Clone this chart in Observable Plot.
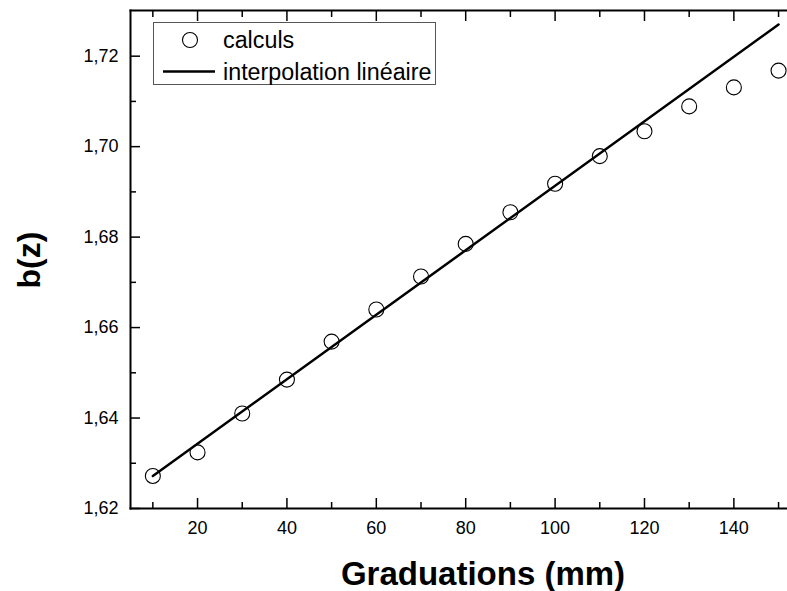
<!DOCTYPE html>
<html>
<head>
<meta charset="utf-8">
<script src="https://cdn.jsdelivr.net/npm/d3@7"></script>
<script src="https://cdn.jsdelivr.net/npm/@observablehq/plot@0.6"></script>
<style>
  html, body { margin: 0; padding: 0; background: #fff; }
  #chart { position: relative; width: 787px; height: 591px; }
</style>
</head>
<body>
<div id="chart"></div>
<script>
// Data
const graduations = [10, 20, 30, 40, 50, 60, 70, 80, 90, 100, 110, 120, 130, 140, 150];
const bValues = [1.6272, 1.6324, 1.6410, 1.6485, 1.6569, 1.6640, 1.6713, 1.6785, 1.6855, 1.6918, 1.6979, 1.7034, 1.7089, 1.7131, 1.7168];
const fitX = [10, 150];
const fitY = [1.6272, 1.7270];
const xMajorTicks = [20, 40, 60, 80, 100, 120, 140];
const xMinorTicks = [10, 30, 50, 70, 90, 110, 130, 150];
const yMajorTicks = [1.62, 1.64, 1.66, 1.68, 1.70, 1.72];
const yMinorTicks = [1.63, 1.65, 1.67, 1.69, 1.71];
const xTitle = "Graduations (mm)";
const yTitle = "b(z)";
const legendLabels = ["calculs", "interpolation linéaire"];

const points = graduations.map((g, i) => ({x: g, y: bValues[i]}));
const fit = fitX.map((g, i) => ({x: g, y: fitY[i]}));
const fmt = d => d.toFixed(2).replace(".", ",");
const FONT = "Liberation Sans, Arial, sans-serif";

const chart = Plot.plot({
  width: 787,
  height: 591,
  marginLeft: 130,
  marginRight: 0,
  marginTop: 10,
  marginBottom: 83,
  style: {fontFamily: FONT, color: "black", background: "white"},
  x: {domain: [5, 152]},
  y: {domain: [1.62, 1.7301]},
  marks: [
    // inward ticks (bottom / top / left)
    Plot.axisX(xMajorTicks, {anchor: "bottom", tickSize: 10, dy: -10, fill: "none", strokeWidth: 1.5}),
    Plot.axisX(xMinorTicks, {anchor: "bottom", tickSize: 6, dy: -6, fill: "none", strokeWidth: 1.5}),
    Plot.axisX(xMajorTicks, {anchor: "top", tickSize: 10, dy: 10, fill: "none", strokeWidth: 1.5}),
    Plot.axisX(xMinorTicks, {anchor: "top", tickSize: 6, dy: 6, fill: "none", strokeWidth: 1.5}),
    Plot.axisY(yMajorTicks, {anchor: "left", tickSize: 10, dx: 10, fill: "none", strokeWidth: 1.5}),
    Plot.axisY(yMinorTicks, {anchor: "left", tickSize: 6, dx: 6, fill: "none", strokeWidth: 1.5}),
    // tick labels
    Plot.axisX(xMajorTicks, {anchor: "bottom", tickSize: 0, tickPadding: 13, fontSize: 18, label: null}),
    Plot.axisY(yMajorTicks, {anchor: "left", tickSize: 0, tickPadding: 12, fontSize: 18, tickFormat: fmt, label: null}),
    // frame (left, top, bottom)
    Plot.frame({anchor: "left", strokeWidth: 2}),
    Plot.frame({anchor: "top", strokeWidth: 2}),
    Plot.frame({anchor: "bottom", strokeWidth: 2}),
    // data
    Plot.line(fit, {x: "x", y: "y", stroke: "black", strokeWidth: 2.5}),
    Plot.dot(points, {x: "x", y: "y", r: 7.5, stroke: "black", strokeWidth: 1.1, fill: "none"}),
    // titles
    Plot.text([xTitle], {frameAnchor: "bottom", dy: 66, dx: 24, fontSize: 33, fontWeight: "bold", lineAnchor: "middle", fill: "black"}),
    Plot.text([yTitle], {frameAnchor: "left", dx: -101, dy: 29, rotate: -90, fontSize: 32, fontWeight: "bold", lineAnchor: "middle", fill: "black"})
  ]
});

document.getElementById("chart").appendChild(chart);

// In-plot legend box (upper left)
const svg = d3.select(chart);
const lg = svg.append("g").attr("class", "legend")
  .style("font-family", FONT).attr("text-anchor", "start");
lg.append("rect").attr("x", 153.5).attr("y", 22.5).attr("width", 282).attr("height", 62)
  .attr("fill", "white").attr("stroke", "#555").attr("stroke-width", 1);
lg.append("circle").attr("cx", 190).attr("cy", 40).attr("r", 7.5)
  .attr("fill", "none").attr("stroke", "black").attr("stroke-width", 1.1);
lg.append("line").attr("x1", 163).attr("x2", 215).attr("y1", 71.5).attr("y2", 71.5)
  .attr("stroke", "black").attr("stroke-width", 2.5);
lg.append("text").attr("x", 223).attr("y", 40).attr("dy", "0.35em").attr("font-size", 23.3)
  .attr("text-anchor", "start").text(legendLabels[0]);
lg.append("text").attr("x", 223).attr("y", 71.5).attr("dy", "0.35em").attr("font-size", 23.3)
  .attr("text-anchor", "start").text(legendLabels[1]);
</script>
</body>
</html>
